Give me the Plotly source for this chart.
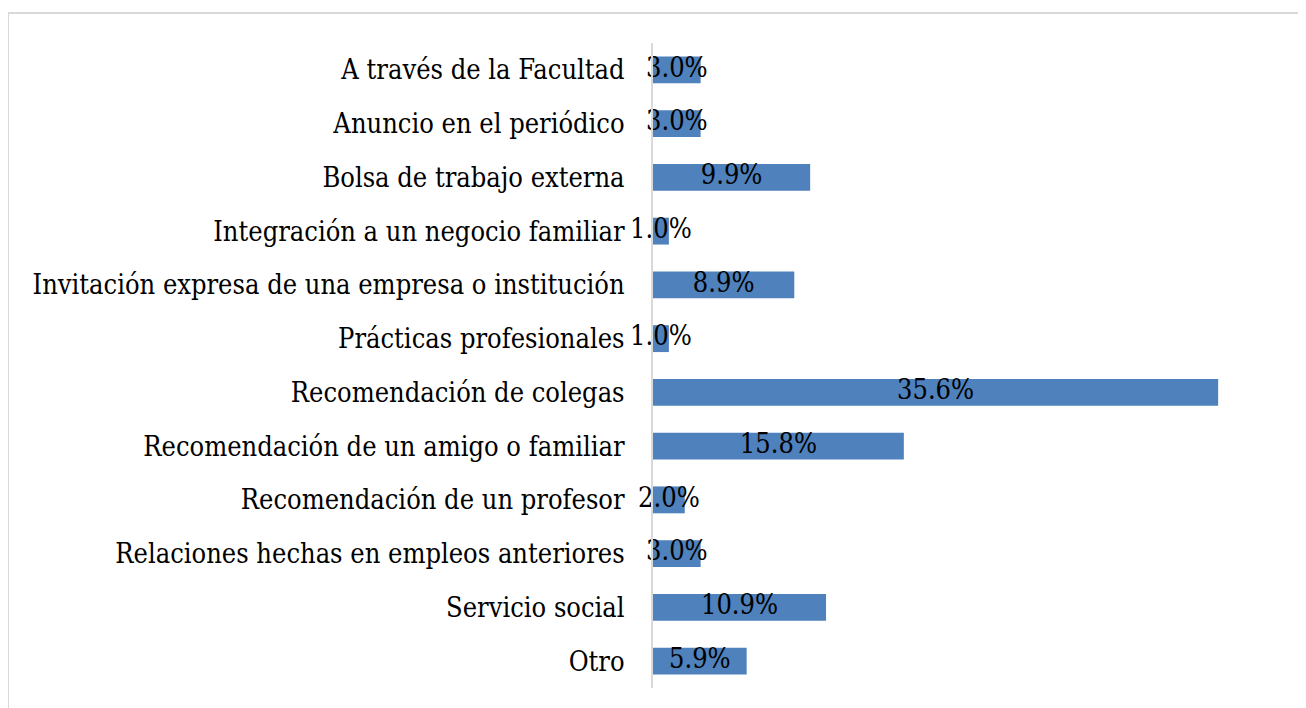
import plotly.graph_objects as go

categorias = [
    "A través de la Facultad",
    "Anuncio en el periódico",
    "Bolsa de trabajo externa",
    "Integración a un negocio familiar",
    "Invitación expresa de una empresa o institución",
    "Prácticas profesionales",
    "Recomendación de colegas",
    "Recomendación de un amigo o familiar",
    "Recomendación de un profesor",
    "Relaciones hechas en empleos anteriores",
    "Servicio social",
    "Otro",
]
porcentajes = [3.0, 3.0, 9.9, 1.0, 8.9, 1.0, 35.6, 15.8, 2.0, 3.0, 10.9, 5.9]
etiquetas = [f"{v:.1f}%" for v in porcentajes]

FONT = "DejaVu Serif Condensed, Liberation Serif, serif"
FS = 27
OFF = 8  # default page body margin
W, H = 1306 - OFF, 708 - OFF
L, R, T, B = 653 - OFF, 18, 43 - OFF, 20

fig = go.Figure()
fig.add_trace(go.Bar(
    x=porcentajes, y=categorias, orientation="h",
    marker=dict(color="#4f81bd", line=dict(color="#4f81bd", width=0)),
    hoverinfo="x+y",
))
fig.add_trace(go.Scatter(
    x=[v / 2 for v in porcentajes], y=categorias, mode="text",
    text=etiquetas, textposition="middle center",
    textfont=dict(family=FONT, size=FS, color="black"),
    hoverinfo="skip", cliponaxis=False,
))

pw = W - L - R
ph = H - T - B
fig.add_shape(type="rect", xref="paper", yref="paper",
              x0=(8 - OFF - L) / pw, x1=(W + 5 - L) / pw,
              y0=-(B + 5) / ph, y1=(H - B - (13 - OFF)) / ph,
              line=dict(color="#d9d9d9", width=2), layer="below")

fig.update_layout(
    width=W, height=H,
    margin=dict(l=L, r=R, t=T, b=B),
    paper_bgcolor="white", plot_bgcolor="white",
    showlegend=False, bargap=0.5,
    font=dict(family=FONT, size=FS, color="black"),
)
fig.update_xaxes(range=[0, 40], visible=False, showgrid=False, zeroline=False)
fig.update_yaxes(
    range=[len(categorias) - 0.5, -0.5], autorange=False,
    categoryorder="array", categoryarray=categorias,
    showline=True, linecolor="#d9d9d9", linewidth=2, showgrid=False,
    ticks="", ticklabelstandoff=21,
    tickfont=dict(family=FONT, size=FS, color="black"),
)

fig.write_html("out.html")
